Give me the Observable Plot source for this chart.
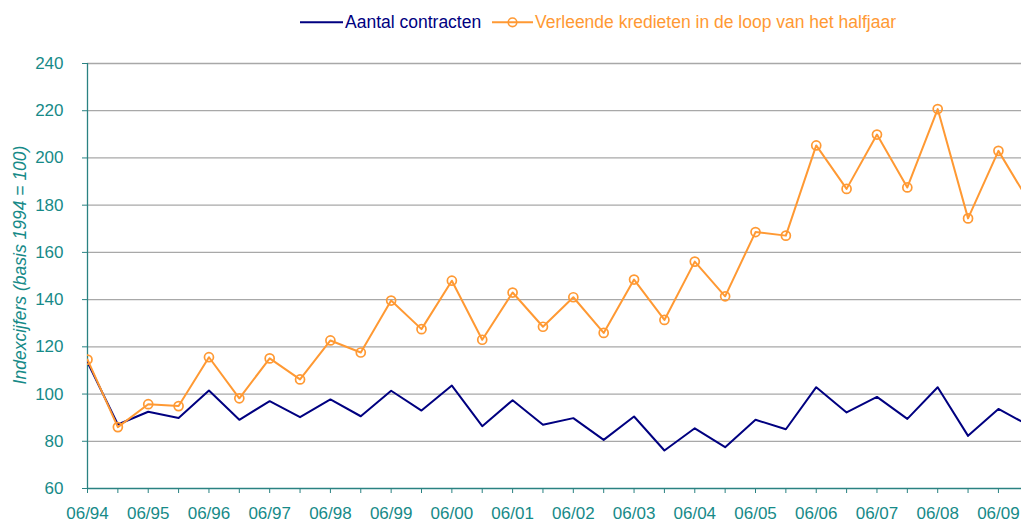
<!DOCTYPE html>
<html>
<head>
<meta charset="utf-8">
<script src="https://cdn.jsdelivr.net/npm/d3@7"></script>
<script src="https://cdn.jsdelivr.net/npm/@observablehq/plot@0.6"></script>
<style>
  html, body { margin: 0; padding: 0; background: #fff; }
  #legend, #chart svg { display: block; }
</style>
</head>
<body>
<svg id="legend" width="1022" height="40"></svg>
<div id="chart"></div>
<script>
// Half-year periods (06/94 ... 12/09)
const periods = ["06/94","12/94","06/95","12/95","06/96","12/96","06/97","12/97","06/98","12/98",
  "06/99","12/99","06/00","12/00","06/01","12/01","06/02","12/02","06/03","12/03",
  "06/04","12/04","06/05","12/05","06/06","12/06","06/07","12/07","06/08","12/08","06/09","12/09"];
const seriesNames = ["Aantal contracten", "Verleende kredieten in de loop van het halfjaar"];
const contracten = [113.5, 87.1, 92.5, 89.9, 101.5, 89.1, 97.0, 90.2, 97.7, 90.6,
  101.4, 93.0, 103.6, 86.4, 97.4, 87.0, 89.8, 80.6, 90.5, 76.1,
  85.5, 77.5, 89.1, 85.1, 102.9, 92.2, 98.8, 89.5, 102.9, 82.3, 93.7, 86.7];
const kredieten = [114.6, 86.0, 95.7, 94.9, 115.6, 98.2, 115.1, 106.2, 122.7, 117.6,
  139.6, 127.5, 148.0, 123.0, 143.0, 128.5, 141.0, 125.9, 148.5, 131.4,
  156.1, 141.4, 168.6, 167.1, 205.3, 186.9, 209.9, 187.5, 220.7, 174.4, 203.0, 181.6];
const yTicks = [60, 80, 100, 120, 140, 160, 180, 200, 220, 240];
const yTitle = "Indexcijfers (basis 1994 = 100)";

const NAVY = "#000080", ORANGE = "#ff9933", TEAL = "#168a88", TEAL_LINE = "#2a8282", GRID = "#a8a8a8";
const FONT = "'Liberation Sans', Arial, sans-serif";

// legend
const lg = d3.select("#legend").attr("font-family", FONT).attr("font-size", 17.5);
lg.append("line").attr("x1", 300).attr("x2", 343).attr("y1", 22.3).attr("y2", 22.3).attr("stroke", NAVY).attr("stroke-width", 2);
lg.append("text").attr("x", 345).attr("y", 28.3).attr("fill", NAVY).text(seriesNames[0]);
lg.append("line").attr("x1", 492).attr("x2", 533).attr("y1", 22.3).attr("y2", 22.3).attr("stroke", ORANGE).attr("stroke-width", 2);
lg.append("circle").attr("cx", 512.5).attr("cy", 22.3).attr("r", 4.3).attr("fill", "none").attr("stroke", ORANGE).attr("stroke-width", 1.6);
lg.append("text").attr("x", 535).attr("y", 28.3).attr("fill", ORANGE).text(seriesNames[1]);

const rows = periods.map((p, i) => ({i, p, contracten: contracten[i], kredieten: kredieten[i]}));

const chart = Plot.plot({
  width: 1022,
  height: 481,
  marginLeft: 87,
  marginRight: 1,
  marginTop: 23,
  marginBottom: 33,
  style: {fontFamily: FONT, color: TEAL, background: "white", overflow: "visible"},
  x: {domain: [0, 30.76]},
  y: {domain: [60, 240]},
  marks: [
    Plot.ruleY(yTicks.filter(d => d > 60), {stroke: GRID, strokeWidth: 1.3}),
    Plot.ruleY([60], {stroke: TEAL_LINE, strokeWidth: 1.3}),
    Plot.ruleX([0], {stroke: TEAL_LINE, strokeWidth: 1.3}),
    Plot.axisY({ticks: yTicks, tickSize: 5, tickPadding: 19, fontSize: 17, label: null, stroke: TEAL_LINE, fill: TEAL}),
    Plot.axisX({ticks: d3.range(0, 31), tickFormat: i => (i % 2 === 0 ? periods[i] : ""), tickSize: 5, tickPadding: 13, fontSize: 17, label: null, stroke: TEAL_LINE, fill: TEAL}),
    Plot.text([yTitle], {frameAnchor: "left", textAnchor: "middle", rotate: -90, dx: -67, dy: -11, fontSize: 17.5, fontStyle: "italic", fill: TEAL}),
    Plot.line(rows, {x: "i", y: "contracten", stroke: NAVY, strokeWidth: 2, clip: true}),
    Plot.line(rows, {x: "i", y: "kredieten", stroke: ORANGE, strokeWidth: 2, clip: true}),
    Plot.dot(rows, {x: "i", y: "kredieten", r: 4.5, stroke: ORANGE, strokeWidth: 1.7, fill: "none", clip: true})
  ]
});
document.getElementById("chart").appendChild(chart);
</script>
</body>
</html>
